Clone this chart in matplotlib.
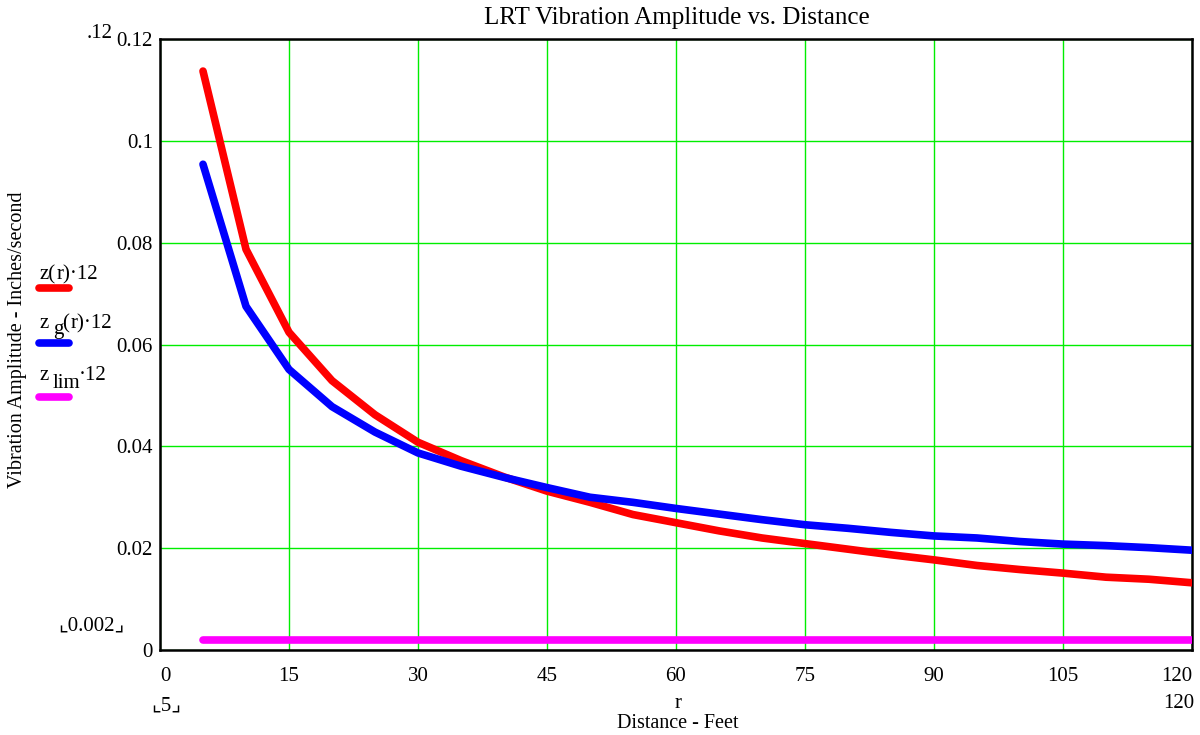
import matplotlib
matplotlib.use("Agg")
import matplotlib.pyplot as plt
from matplotlib.lines import Line2D

plt.rcParams['font.family'] = ['Liberation Serif', 'DejaVu Sans']

# distance in feet
r = [5, 10, 15, 20, 25, 30, 35, 40, 45, 50, 55, 60,
     65, 70, 75, 80, 85, 90, 95, 100, 105, 110, 115, 120]
# z(r)*12
z_r = [0.1137, 0.0787, 0.0624, 0.0529, 0.0462, 0.0408, 0.0372, 0.0340,
       0.0312, 0.0290, 0.0266, 0.0250, 0.0234, 0.0220, 0.0209, 0.0198,
       0.0187, 0.0177, 0.0166, 0.0158, 0.0151, 0.0143, 0.0139, 0.0132]
# z_g(r)*12
zg_r = [0.0954, 0.0675, 0.0551, 0.0478, 0.0428, 0.0387, 0.0361, 0.0339,
        0.0319, 0.0300, 0.0290, 0.0278, 0.0267, 0.0256, 0.0246, 0.0239,
        0.0231, 0.0224, 0.0220, 0.0213, 0.0208, 0.0205, 0.0201, 0.0196]
# z_lim*12
z_lim = 0.002

xticks = [0, 15, 30, 45, 60, 75, 90, 105, 120]
yticks = [0, 0.02, 0.04, 0.06, 0.08, 0.1, 0.12]
ylabels = ["0", "0.02", "0.04", "0.06", "0.08", "0.1", "0.12"]

W, H = 1200, 735
fig = plt.figure(figsize=(12, 7.35), dpi=100)
ax = fig.add_axes([160 / W, 1 - 650 / H, (1192 - 160) / W, (650 - 39) / H])

lw = 5.5
ax.plot(r, z_r, color='#ff0000', lw=lw, solid_capstyle='round', solid_joinstyle='round', zorder=3)
ax.plot(r, zg_r, color='#0000ff', lw=lw, solid_capstyle='round', solid_joinstyle='round', zorder=4)
ax.plot([r[0], r[-1]], [z_lim, z_lim], color='#ff00ff', lw=lw, solid_capstyle='round', zorder=3)

ax.set_xlim(0, 120)
ax.set_ylim(0, 0.12)
ax.set_xticks(xticks)
ax.set_xticklabels([str(t) for t in xticks])
ax.set_yticks(yticks)
ax.set_yticklabels(ylabels)
ax.tick_params(length=0, labelsize=15)
ax.tick_params(axis='x', pad=12)
ax.tick_params(axis='y', pad=5)
xl = ax.get_xticklabels()
xl[0].set_ha('left')
xl[-1].set_ha('right')
ax.grid(True, color='#00ee00', lw=1)
for s in ax.spines.values():
    s.set_linewidth(1.8)
    s.set_color('black')

def ft(x, y, s, **kw):
    return fig.text(x / W, 1 - y / H, s, **kw)

ft(677, 18, "LRT Vibration Amplitude vs. Distance", fontsize=18, ha='center', va='center')
ft(18, 340, "Vibration Amplitude - Inches/second", fontsize=14.5, rotation=90, ha='center', va='center')
ft(100, 33, ".12", fontsize=15, ha='center', va='center')
ft(91, 626, "\u231e0.002\u231f", fontsize=15, ha='center', va='center')
ft(166, 706, "\u231e5\u231f", fontsize=15, ha='center', va='center')
ft(678, 704, "r", fontsize=15, ha='center', va='center')
ft(1179, 704, "120", fontsize=15, ha='center', va='center')
ft(678, 724, "Distance - Feet", fontsize=14.5, ha='center', va='center')

# legend on the left, written piece by piece: (text, x, baseline y)
leg_text = [
    [("z(", 39, 279), ("r)\u00b712", 57, 279)],
    [("z", 39, 328), ("g", 53, 334), ("(", 62, 328), ("r)\u00b712", 71, 328)],
    [("z", 39, 380), ("lim", 53, 388), ("\u00b712", 79, 380)],
]
leg_lines = [(288, '#ff0000'), (343, '#0000ff'), (397, '#ff00ff')]
for pieces in leg_text:
    for s, x, y in pieces:
        ft(x, y, s, fontsize=15, ha='left', va='baseline')
for ly, c in leg_lines:
    fig.add_artist(Line2D([39 / W, 69 / W], [1 - ly / H, 1 - ly / H], color=c, lw=lw,
                          solid_capstyle='round', transform=fig.transFigure))

fig.savefig("out.png", dpi=100)
